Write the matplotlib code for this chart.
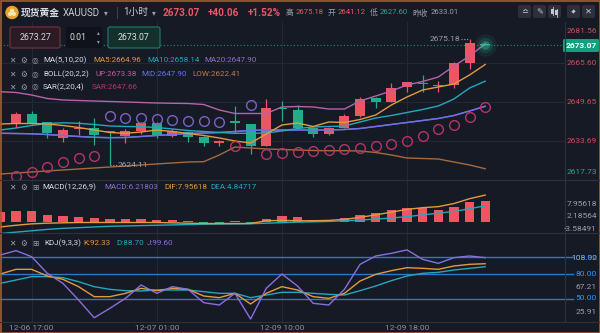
import matplotlib
matplotlib.use('Agg')
import matplotlib.pyplot as plt
from matplotlib.patches import FancyBboxPatch, Rectangle, Circle

W, H = 600, 333

# hourly bars, index 0..30; indicator series start one bar earlier (-1..30)
opens = [2640.55, 2644.63, 2641.36, 2634.83, 2638.63, 2638.92, 2637.60, 2635.90, 2637.94, 2640.96,
         2635.77, 2637.53, 2635.49, 2632.79, 2641.90, 2640.55, 2631.81, 2647.10, 2646.38, 2639.16,
         2636.47, 2639.16, 2644.06, 2651.16, 2649.77, 2655.89, 2657.53, 2656.18, 2656.59, 2665.69, 2673.40]
highs = [2645.45, 2645.98, 2641.60, 2639.16, 2642.02, 2643.00, 2637.90, 2638.63, 2641.61, 2641.61,
         2638.50, 2637.70, 2635.60, 2634.14, 2648.00, 2640.70, 2650.87, 2650.00, 2648.50, 2639.57,
         2639.40, 2644.60, 2651.57, 2651.81, 2657.28, 2657.94, 2660.67, 2658.35, 2666.10, 2675.18, 2673.60]
lows = [2639.57, 2640.80, 2634.83, 2633.20, 2636.18, 2632.10, 2624.11, 2633.04, 2636.47, 2634.83,
        2635.24, 2633.45, 2631.81, 2631.81, 2637.00, 2628.43, 2631.50, 2642.00, 2639.00, 2635.49,
        2636.20, 2638.90, 2643.40, 2647.08, 2649.50, 2653.85, 2653.85, 2653.85, 2655.20, 2663.00, 2672.90]
closes = [2644.63, 2640.96, 2636.87, 2638.22, 2639.16, 2636.18, 2637.30, 2637.94, 2640.96, 2635.77,
          2637.81, 2635.24, 2632.79, 2633.85, 2641.00, 2631.81, 2647.08, 2646.80, 2639.16, 2636.47,
          2638.92, 2643.94, 2650.87, 2649.77, 2655.49, 2657.69, 2656.87, 2656.59, 2665.45, 2673.61, 2673.07]

ma5 = [2640.67, 2640.87, 2640.87, 2640.67, 2640.06, 2639.24, 2638.22, 2637.20, 2636.87, 2637.41,
       2638.22, 2637.61, 2636.79, 2635.98, 2634.96, 2633.73, 2632.92, 2636.59, 2640.26, 2641.08,
       2639.65, 2641.49, 2641.28, 2642.51, 2644.34, 2648.43, 2651.69, 2654.55, 2655.77, 2656.99,
       2660.67, 2664.96]
ma10 = [2638.22, 2639.04, 2640.06, 2640.87, 2641.16, 2640.96, 2640.47, 2639.85, 2639.65, 2639.57,
        2639.24, 2638.63, 2638.02, 2637.61, 2637.20, 2636.87, 2636.87, 2637.00, 2637.81, 2638.83,
        2639.45, 2639.65, 2639.85, 2641.49, 2643.12, 2644.14, 2645.36, 2646.59, 2648.02, 2650.87,
        2655.36, 2658.14]
ma20 = [2636.87, 2636.79, 2636.67, 2636.38, 2635.98, 2635.57, 2635.24, 2635.08, 2635.16, 2635.57,
        2635.98, 2636.38, 2636.79, 2636.98, 2637.20, 2637.61, 2638.02, 2638.22, 2638.22, 2638.22,
        2638.22, 2638.22, 2638.43, 2638.83, 2639.65, 2640.47, 2641.28, 2642.10, 2642.92, 2644.14,
        2645.98, 2647.90]
boll_up = [2653.85, 2653.53, 2652.51, 2651.08, 2650.47, 2650.26, 2650.06, 2649.85, 2649.65, 2649.45,
           2649.24, 2649.12, 2649.04, 2648.63, 2646.38, 2644.96, 2644.96, 2644.96, 2647.61, 2647.81,
           2647.61, 2646.79, 2646.79, 2650.06, 2652.10, 2654.14, 2656.59, 2658.02, 2659.85, 2664.34,
           2668.43, 2673.38]
boll_low = [2620.26, 2620.67, 2621.08, 2621.49, 2621.90, 2622.30, 2622.71, 2623.12, 2623.53, 2623.94,
            2624.35, 2624.76, 2625.16, 2625.28, 2628.02, 2631.28, 2630.87, 2630.47, 2630.26, 2630.06,
            2629.85, 2629.77, 2629.77, 2629.65, 2629.04, 2628.02, 2626.79, 2626.59, 2626.38, 2625.16,
            2623.94, 2622.41]
sar = [2619.45, 2621.08, 2623.24, 2625.08, 2626.67, 2627.81, 2643.94, 2643.00, 2643.00, 2642.51,
       2642.18, 2642.02, 2641.69, 2641.28, 2631.49, 2648.43, 2628.43, 2628.71, 2629.24, 2629.57,
       2629.94, 2630.26, 2630.87, 2631.57, 2632.51, 2633.85, 2635.77, 2638.51, 2640.26, 2643.65, 2647.66]

macd_hist = [3.0, 3.4, 3.2, 2.2, 2.0, 1.7, 1.3, 0.9, 0.9, 1.1, 0.7, 0.7, 0.3, -0.4, -0.5, 0.3,
             -0.4, 1.1, 2.0, 1.6, 0.7, 0.7, 1.2, 2.2, 2.7, 3.5, 4.2, 4.2, 3.7, 4.5, 5.9, 6.21803]
dif = [-1.3, -0.8, -0.4, -0.2, -0.1, 0.0, 0.0, 0.0, 0.0, 0.0, 0.0, -0.1, -0.2, -0.3, -0.3, -0.3,
       -0.3, 0.5, 0.6, 0.5, 0.5, 0.6, 0.9, 1.5, 2.2, 3.0, 3.8, 4.3, 4.6, 5.5, 6.9, 7.95618]
dea = [-3.2, -2.8, -2.4, -2.0, -1.7, -1.5, -1.3, -1.1, -1.0, -0.9, -0.8, -0.7, -0.6, -0.5, -0.45, -0.4,
       -0.35, -0.2, -0.05, 0.1, 0.2, 0.3, 0.5, 0.7, 1.0, 1.3, 1.7, 2.2, 2.7, 3.2, 4.0, 4.84717]

kdj_k = [80, 85.6, 85.6, 77.6, 73.6, 64.8, 52.8, 52.8, 56.8, 62.8, 60, 62.8, 61.6, 53.6, 51.6, 56.8,
         44, 56.8, 64.8, 60.8, 52.8, 50.8, 56.8, 71.6, 79.6, 84, 87.6, 86.8, 85.6, 89.6, 91.6, 92.33]
kdj_d = [68.8, 72.8, 76.8, 76.8, 75.6, 70.8, 64.8, 61.6, 60, 59.6, 60.8, 60.8, 60.8, 58.8, 56.8, 56.8,
         51.6, 54.8, 58, 58, 56.8, 55.6, 54.8, 60, 65.6, 72, 77.6, 80.8, 82, 84.8, 86.8, 88.70]
kdj_j = [102.8, 108, 100.8, 80.8, 68.8, 48.8, 27.5, 38.8, 50.8, 66.8, 56.8, 64.8, 61.6, 45.6, 42.8, 56.8,
         25.91, 62.8, 80, 65.6, 44.8, 42.8, 61.6, 91.6, 101.6, 104.8, 108.92, 97.6, 92.8, 99.6, 101.6, 99.60]

tick_idx = [1, 9, 17, 25]
tick_text = ['12-06 17:00', '12-07 01:00', '12-09 10:00', '12-09 18:00']
price_ticks = [2617.73, 2633.69, 2649.65, 2665.60, 2681.56]
macd_labels = ['7.95618', '2.18564', '-3.58491']
kdj_levels = [100, 80, 50]
last_price = 2673.07

BG = '#161a25'
GRID = '#222836'
SEP = '#2c313d'
RED = '#ee5563'
GREEN = '#1fae8b'
C_MA5 = '#e29a3e'
C_MA10 = '#22a8bd'
C_MA20 = '#8f6fd6'
C_UP = '#b563aa'
C_MID = '#6474e8'
C_LOW = '#a66a3e'
C_SAR_HI = '#7c62c4'
C_SAR_LO = '#b83468'
C_TXT = '#d8dbe2'
C_GREY = '#9aa0ab'
C_LEVEL = '#2c78c8'

plt.rcParams['font.family'] = ['Roboto', 'Noto Sans CJK SC', 'DejaVu Sans']

fig = plt.figure(figsize=(W / 100, H / 100), dpi=100, facecolor=BG)


def rect(x0, y0, x1, y1):
    return [x0 / W, 1 - y1 / H, (x1 - x0) / W, (y1 - y0) / H]


XL = (-16 / 15.64, 549 / 15.64)
n = len(closes)
xc = list(range(n))
xl = list(range(-1, n))


def setup(ax, ylim):
    ax.set_facecolor(BG)
    ax.set_xlim(*XL)
    ax.set_ylim(*ylim)
    ax.set_xticks([])
    ax.set_yticks([])
    for s in ax.spines.values():
        s.set_visible(False)
    for t in tick_idx:
        ax.axvline(t, color=GRID, lw=0.8, zorder=0)


# ---- price pane
ax = fig.add_axes(rect(0, 22, 565, 180))
setup(ax, (2617.81, 2682.30))
for p in price_ticks[1:-1]:
    ax.axhline(p, color=GRID, lw=0.8, zorder=0)

for i in xc:
    o, h, l, c = opens[i], highs[i], lows[i], closes[i]
    col = RED if c >= o else GREEN
    ax.vlines(i, l, h, color=col, lw=0.9, zorder=2)
    body = max(abs(c - o), 0.35)
    ax.bar(i, body, bottom=min(o, c), width=0.64, color=col, lw=0, zorder=2)

ax.plot(xl, boll_low, color=C_LOW, lw=1.0, zorder=3)
ax.plot(xl, boll_up, color=C_UP, lw=1.0, zorder=3)
ax.plot(xl, ma20, color=C_MA20, lw=1.0, zorder=3)
ax.plot(xl, ma20, color=C_MID, lw=1.0, zorder=3, alpha=0.85)
ax.plot(xl, ma10, color=C_MA10, lw=1.0, zorder=3)
ax.plot(xl, ma5, color=C_MA5, lw=1.0, zorder=3)

for i, s in enumerate(sar):
    col = C_SAR_HI if s > highs[i] else C_SAR_LO
    ax.plot(i, s, 'o', ms=7, mfc='none', mec=col, mew=1.0, zorder=4)

ax.axhline(last_price, color='#1d8f73', lw=0.8, ls=(0, (1, 2)), zorder=1)
for s_, a_ in [(260, 0.08), (120, 0.15), (40, 0.35)]:
    ax.scatter([n - 1], [last_price], s=s_, color='#2fd6a6', alpha=a_, lw=0, zorder=5)

# extreme price callouts
hi_i = highs.index(max(highs))
ax.plot([hi_i - 0.55, hi_i - 0.05], [max(highs)] * 2, color=C_GREY, lw=0.8, ls=(0, (1, 1.5)))
ax.text(hi_i - 0.6, max(highs), f'{max(highs):.2f}', color=C_GREY, fontsize=6, ha='right', va='center')
lo_i = lows.index(min(lows))
ax.plot([lo_i, lo_i + 0.45], [min(lows)] * 2, color=C_GREY, lw=0.8, ls=(0, (1, 1.5)))
ax.text(lo_i + 0.5, min(lows), f'{min(lows):.2f}', color=C_GREY, fontsize=6, ha='left', va='center')

# ---- MACD pane
axm = fig.add_axes(rect(0, 180, 565, 233))
setup(axm, (-3.05, 12.33))
axm.bar(xl, macd_hist, width=0.6, color=[RED if v >= 0 else GREEN for v in macd_hist], lw=0, zorder=2)
axm.plot(xl, dea, color=C_MA10, lw=1.0, zorder=3)
axm.plot(xl, dif, color=C_MA5, lw=1.0, zorder=3)

# ---- KDJ pane
axk = fig.add_axes(rect(0, 233, 565, 322))
setup(axk, (22.4, 129.2))
for lv in kdj_levels:
    axk.plot([XL[0], 557 / 15.64], [lv, lv], color=C_LEVEL, lw=1.0, clip_on=False, zorder=1)
axk.plot(xl, kdj_d, color=C_MA10, lw=1.0, zorder=3)
axk.plot(xl, kdj_k, color=C_MA5, lw=1.0, zorder=3)
axk.plot(xl, kdj_j, color='#8a6ee0', lw=1.0, zorder=3)

# ---- overlay: header, boxes, legends, axis labels
d = fig.add_axes([0, 0, 1, 1])
d.set_xlim(0, W)
d.set_ylim(H, 0)
d.axis('off')
d.patch.set_alpha(0)
d.set_zorder(10)


def txt(x, y, s, color=C_TXT, size=6, ha='left', **kw):
    d.text(x, y, s, color=color, fontsize=size, ha=ha, va='center', **kw)


for yy in (180, 233, 322):
    d.plot([0, W], [yy, yy], color=SEP, lw=0.8)
d.plot([565, 565], [22, 322], color=SEP, lw=0.8)

# header
d.add_patch(Circle((12, 12.5), 6, color='#e6a52a'))
for dx, dy in [(-2, 1.5), (2, 1.5), (0, -1.8)]:
    d.add_patch(Circle((12 + dx, 12.5 + dy), 1.4, color='#fbe7b0'))
txt(21, 12.5, '现货黄金', size=7, weight='bold')
txt(63, 12.5, 'XAUUSD', size=7, color='#c9ccd3')
txt(104, 12.5, '▾', size=5.5, color=C_GREY, family='DejaVu Sans')
d.plot([117, 117], [7, 18], color='#3a3f4b', lw=0.8)
txt(123, 12.5, '1小时', size=7, color='#c9ccd3')
txt(152, 12.5, '▾', size=5.5, color=C_GREY, family='DejaVu Sans')
txt(163, 12.5, '2673.07', size=7.2, color=RED, weight='bold')
txt(208, 12.5, '+40.06', size=7.2, color=RED, weight='bold')
txt(248, 12.5, '+1.52%', size=7.2, color=RED, weight='bold')
hdr = [(286, '高', C_GREY), (296, '2675.18', RED), (328, '开', C_GREY), (338, '2641.12', RED),
       (370, '低', C_GREY), (380, '2627.60', GREEN), (412, '昨收', C_GREY), (431, '2633.01', C_GREY)]
for x0, s, col in hdr:
    txt(x0, 12.5, s, size=5.6, color=col)

for x0 in [518, 533, 548, 567, 582]:
    d.add_patch(FancyBboxPatch((x0, 5), 13, 13, boxstyle='round,pad=0,rounding_size=2',
                               fc='#2b303b', ec='none'))
ICON = '#c5c9d1'
txt(524.5, 11.5, '≏', size=6, ha='center', color=ICON, family='DejaVu Sans')
txt(539.5, 11.5, '✎', size=6, ha='center', color=ICON, family='DejaVu Sans')
# candle glyph
for cx, y0, y1 in [(552.5, 8.5, 13.5), (556.5, 10, 15)]:
    d.plot([cx, cx], [y0 - 1.5, y1 + 1.5], color=ICON, lw=0.6)
    d.add_patch(Rectangle((cx - 1.3, y0), 2.6, y1 - y0, color=ICON, lw=0))
# expand glyph
d.annotate('', xy=(577, 8), xytext=(570, 15),
           arrowprops=dict(arrowstyle='<->', color=ICON, lw=0.7, mutation_scale=4))
txt(588.5, 11.5, '✕', size=6, ha='center', color=ICON, family='DejaVu Sans')

# order boxes
d.add_patch(FancyBboxPatch((10, 27), 50, 21, boxstyle='round,pad=0,rounding_size=2',
                           fc='#2a1b24', ec='#7a3441', lw=0.8))
txt(35, 37.5, '2673.27', size=6.3, ha='center', color='#d9d2d6')
d.add_patch(FancyBboxPatch((66, 27), 36, 21, boxstyle='round,pad=0,rounding_size=2',
                           fc='#0f1219', ec='none'))
txt(70, 37.5, '0.01', size=6.3, color=C_TXT)
txt(98, 33, '▴', size=4, ha='center', color=C_GREY, family='DejaVu Sans')
txt(98, 42, '▾', size=4, ha='center', color=C_GREY, family='DejaVu Sans')
d.add_patch(FancyBboxPatch((108, 27), 52, 21, boxstyle='round,pad=0,rounding_size=2',
                           fc='#14302c', ec='#1f7d66', lw=0.8))
txt(134, 37.5, '2673.07', size=6.3, ha='center', color='#d9e2df')


def icon_row(y, icon3='◎'):
    txt(9, y, '✕', size=5.5, color=C_GREY, family='DejaVu Sans')
    txt(20, y, '⚙', size=5.5, color=C_GREY, family='DejaVu Sans')
    txt(32, y, icon3, size=5.5, color=C_GREY, family='DejaVu Sans')


icon_row(60.5)
txt(43, 60.5, 'MA(5,10,20)', size=5.8)
txt(93, 60.5, 'MA5:2664.96', size=5.8, color=C_MA5)
txt(147, 60.5, 'MA10:2658.14', size=5.8, color=C_MA10)
txt(204, 60.5, 'MA20:2647.90', size=5.8, color=C_MA20)
icon_row(74)
txt(43, 74, 'BOLL(20,2,2)', size=5.8)
txt(95, 74, 'UP:2673.38', size=5.8, color='#c85a9a')
txt(141, 74, 'MID:2647.90', size=5.8, color=C_MID)
txt(192, 74, 'LOW:2622.41', size=5.8, color='#c07c46')
icon_row(87)
txt(43, 87, 'SAR(2,20,4)', size=5.8)
txt(92, 87, 'SAR:2647.66', size=5.8, color=C_SAR_LO)

icon_row(187, '⊞')
txt(42, 187, 'MACD(12,26,9)', size=5.8)
txt(104, 187, 'MACD:6.21803', size=5.8, color=C_MA20)
txt(164, 187, 'DIF:7.95618', size=5.8, color=C_MA5)
txt(210, 187, 'DEA:4.84717', size=5.8, color=C_MA10)

icon_row(243, '⊞')
txt(44, 243, 'KDJ(9,3,3)', size=5.8)
txt(83, 243, 'K:92.33', size=5.8, color=C_MA5)
txt(116, 243, 'D:88.70', size=5.8, color=C_MA10)
txt(147, 243, 'J:99.60', size=5.8, color='#8a6ee0')

# price axis labels
for p in price_ticks:
    y = 102 - (p - 2649.65) * 2.45
    y = min(max(y, 31), 172)
    txt(597, y, f'{p:.2f}', size=6, ha='right', color=GREEN if p == price_ticks[0] else '#c8505c')
d.add_patch(FancyBboxPatch((563, 39), 36, 13, boxstyle='round,pad=0,rounding_size=1.5',
                           fc='#12a07e', ec='none'))
txt(581, 45.5, f'{last_price:.2f}', size=6, ha='center', color='white', weight='bold')

for y, s in zip([203.5, 216.5, 229], macd_labels):
    txt(597, y, s, size=6, ha='right', color=C_GREY)

txt(597, 257.5, f'{max(kdj_j):.2f}', size=6, ha='right', color=C_GREY)
for y, lv in zip([257.5, 274, 298.5], kdj_levels):
    txt(597, y, f'{lv:.2f}', size=6, ha='right', color='#3d92e8')
txt(597, 287, '67.21', size=6, ha='right', color=C_GREY)
txt(597, 312, f'{min(kdj_j):.2f}', size=6, ha='right', color=C_GREY)

for t, s in zip(tick_idx, tick_text):
    txt(16 + 15.64 * t, 327.5, s, size=6, ha='center', color='#8c929e')

d.add_patch(Rectangle((0.5, 0.5), W - 1, H - 1, fill=False, ec='#a45b35', lw=1.2))

fig.savefig('out.png', dpi=100, facecolor=BG)
